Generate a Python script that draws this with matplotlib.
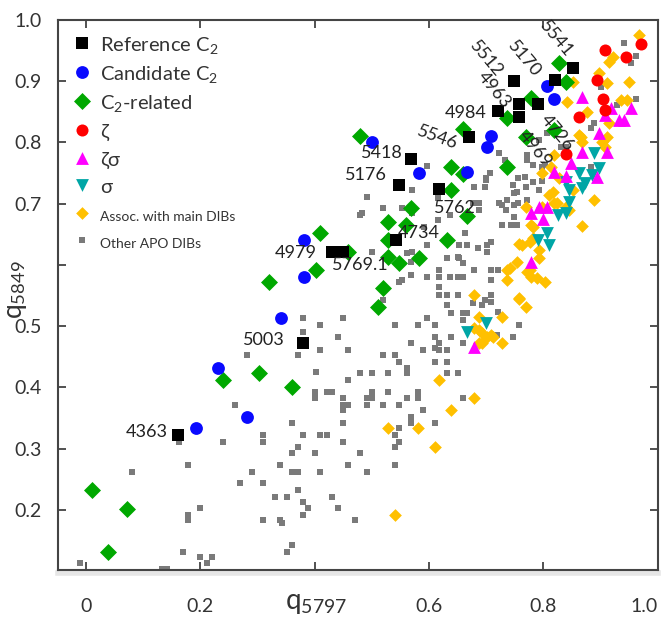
import numpy as np
import matplotlib
matplotlib.use("Agg")
import matplotlib.pyplot as plt

plt.rcParams['font.family'] = ['Lato', 'DejaVu Sans']
plt.rcParams['mathtext.fontset'] = 'custom'
plt.rcParams['mathtext.rm'] = 'Lato'
plt.rcParams['mathtext.it'] = 'Lato:italic'

# reference C2 DIBs (q5797, q5849) and their labels
ref_pts = [(0.161, 0.322), (0.379, 0.473), (0.430, 0.621), (0.449, 0.621), (0.543, 0.641),
           (0.548, 0.731), (0.569, 0.773), (0.618, 0.724), (0.669, 0.809), (0.721, 0.851),
           (0.749, 0.900), (0.758, 0.863), (0.758, 0.842), (0.791, 0.863), (0.821, 0.902),
           (0.851, 0.922)]
ref_labels = ['4363', '5003', '4979', '5769.1', '4734', '5176', '5418', '5762', '5546',
              '4984', '5512', '4963', '4969', '4726', '5170', '5541']

cand_pts = [(0.192, 0.334), (0.231, 0.432), (0.281, 0.352), (0.341, 0.513), (0.381, 0.641),
            (0.381, 0.580), (0.500, 0.801), (0.582, 0.750), (0.667, 0.751), (0.709, 0.811),
            (0.702, 0.793), (0.807, 0.892), (0.819, 0.871)]

c2rel_pts = [(0.010, 0.233), (0.072, 0.202), (0.038, 0.131), (0.239, 0.412), (0.302, 0.424),
             (0.360, 0.401), (0.320, 0.572), (0.409, 0.652), (0.402, 0.592), (0.458, 0.621),
             (0.479, 0.811), (0.569, 0.693), (0.528, 0.670), (0.560, 0.665), (0.528, 0.641),
             (0.529, 0.613), (0.548, 0.603), (0.582, 0.611), (0.519, 0.562), (0.510, 0.531),
             (0.631, 0.641), (0.639, 0.760), (0.659, 0.749), (0.659, 0.822), (0.737, 0.840),
             (0.779, 0.873), (0.828, 0.930), (0.840, 0.899), (0.737, 0.760), (0.639, 0.722),
             (0.819, 0.820), (0.770, 0.809), (0.667, 0.680)]

zeta_pts = [(0.907, 0.951), (0.971, 0.961), (0.945, 0.940), (0.893, 0.902), (0.905, 0.871),
            (0.908, 0.853), (0.863, 0.842), (0.840, 0.781)]

zetasigma_pts = [(0.868, 0.874), (0.919, 0.856), (0.954, 0.856), (0.908, 0.845), (0.933, 0.837),
                 (0.941, 0.837), (0.898, 0.816), (0.912, 0.784), (0.868, 0.784), (0.849, 0.766),
                 (0.819, 0.752), (0.793, 0.695), (0.807, 0.695), (0.779, 0.685), (0.800, 0.675),
                 (0.779, 0.605), (0.679, 0.466), (0.840, 0.746), (0.893, 0.744)]

sigma_pts = [(0.889, 0.783), (0.898, 0.758), (0.885, 0.747), (0.863, 0.750), (0.840, 0.736),
             (0.872, 0.734), (0.845, 0.722), (0.868, 0.725), (0.845, 0.703), (0.840, 0.685),
             (0.826, 0.682), (0.807, 0.652), (0.790, 0.641), (0.810, 0.633), (0.700, 0.505),
             (0.667, 0.491)]

assoc_pts = [(0.618, 0.412), (0.679, 0.383), (0.639, 0.363), (0.529, 0.334), (0.580, 0.334),
             (0.611, 0.303), (0.541, 0.192), (0.679, 0.551), (0.688, 0.515), (0.728, 0.515),
             (0.688, 0.494), (0.702, 0.482), (0.711, 0.482), (0.692, 0.473), (0.728, 0.473),
             (0.758, 0.546), (0.770, 0.531), (0.741, 0.595), (0.737, 0.576), (0.753, 0.605),
             (0.762, 0.633), (0.770, 0.695), (0.781, 0.662), (0.776, 0.592), (0.788, 0.579),
             (0.819, 0.701), (0.889, 0.706), (0.868, 0.664), (0.758, 0.634), (0.776, 0.638),
             (0.793, 0.624), (0.793, 0.611), (0.737, 0.592), (0.772, 0.589), (0.779, 0.580),
             (0.802, 0.572), (0.758, 0.544), (0.679, 0.497), (0.692, 0.489), (0.709, 0.486),
             (0.688, 0.473), (0.868, 0.801), (0.903, 0.801), (0.819, 0.780), (0.907, 0.793),
             (0.798, 0.750), (0.828, 0.742), (0.810, 0.714), (0.823, 0.701), (0.851, 0.722),
             (0.845, 0.690), (0.779, 0.665), (0.781, 0.644), (0.968, 0.976), (0.921, 0.940),
             (0.915, 0.931), (0.898, 0.913), (0.912, 0.897), (0.950, 0.899), (0.851, 0.899),
             (0.936, 0.869), (0.947, 0.869), (0.842, 0.866), (0.877, 0.850), (0.915, 0.832),
             (0.863, 0.812), (0.912, 0.809), (0.866, 0.809), (0.814, 0.760), (0.816, 0.719),
             (0.840, 0.695), (0.798, 0.695)]

other_pts = [(0.379, 0.513), (0.449, 0.513), (0.409, 0.502), (0.379, 0.491), (0.440, 0.482),
             (0.409, 0.461), (0.458, 0.461), (0.281, 0.453), (0.370, 0.453), (0.403, 0.425),
             (0.479, 0.424), (0.458, 0.412), (0.400, 0.393), (0.421, 0.393), (0.430, 0.393),
             (0.400, 0.383), (0.449, 0.383), (0.491, 0.383), (0.449, 0.371), (0.458, 0.371),
             (0.449, 0.363), (0.491, 0.371), (0.260, 0.371), (0.360, 0.342), (0.449, 0.342),
             (0.309, 0.322), (0.309, 0.311), (0.379, 0.322), (0.409, 0.322), (0.421, 0.322),
             (0.239, 0.311), (0.449, 0.311), (0.370, 0.303), (0.360, 0.293), (0.400, 0.293),
             (0.479, 0.293), (0.178, 0.273), (0.339, 0.273), (0.458, 0.273), (0.290, 0.262),
             (0.360, 0.262), (0.370, 0.262), (0.409, 0.262), (0.491, 0.262), (0.269, 0.244),
             (0.309, 0.244), (0.370, 0.233), (0.330, 0.221), (0.351, 0.221), (0.430, 0.221),
             (0.379, 0.213), (0.388, 0.203), (0.440, 0.203), (0.199, 0.203), (0.178, 0.192),
             (0.178, 0.184), (0.379, 0.192), (0.309, 0.184), (0.339, 0.184), (0.342, 0.179),
             (0.470, 0.184), (0.360, 0.143), (0.351, 0.131), (0.169, 0.131), (0.199, 0.123),
             (0.220, 0.123), (0.211, 0.113), (-0.010, 0.113), (0.133, 0.104), (0.141, 0.104),
             (0.080, 0.262), (0.162, 0.311),
             (0.618, 0.592), (0.618, 0.580), (0.636, 0.580), (0.650, 0.580), (0.618, 0.564),
             (0.618, 0.551), (0.632, 0.551), (0.650, 0.551), (0.631, 0.535), (0.659, 0.522),
             (0.667, 0.522), (0.639, 0.522), (0.676, 0.538), (0.692, 0.535), (0.709, 0.551),
             (0.709, 0.540), (0.697, 0.543), (0.720, 0.523), (0.709, 0.592), (0.720, 0.592),
             (0.679, 0.592), (0.659, 0.603), (0.597, 0.580), (0.569, 0.584), (0.548, 0.572),
             (0.519, 0.543), (0.540, 0.502), (0.580, 0.502), (0.610, 0.502), (0.597, 0.513),
             (0.610, 0.482), (0.639, 0.482), (0.659, 0.473), (0.569, 0.473), (0.610, 0.464),
             (0.618, 0.461), (0.631, 0.461), (0.589, 0.461), (0.519, 0.453), (0.540, 0.453),
             (0.548, 0.442), (0.561, 0.432), (0.561, 0.424), (0.610, 0.442), (0.631, 0.442),
             (0.631, 0.424), (0.650, 0.424), (0.500, 0.424), (0.528, 0.424), (0.500, 0.393),
             (0.528, 0.393), (0.580, 0.393), (0.500, 0.383), (0.519, 0.371), (0.548, 0.371),
             (0.561, 0.383), (0.580, 0.383), (0.589, 0.363), (0.659, 0.383), (0.569, 0.352),
             (0.569, 0.342), (0.610, 0.342), (0.548, 0.334), (0.540, 0.322), (0.548, 0.311),
             (0.540, 0.303), (0.540, 0.273),
             (0.482, 0.685), (0.519, 0.693), (0.552, 0.693), (0.571, 0.685), (0.501, 0.621),
             (0.571, 0.621), (0.552, 0.576), (0.597, 0.633), (0.631, 0.611), (0.653, 0.611),
             (0.662, 0.652), (0.685, 0.628), (0.702, 0.633), (0.702, 0.621), (0.709, 0.638),
             (0.709, 0.576), (0.659, 0.510), (0.618, 0.473), (0.758, 0.502), (0.718, 0.486),
             (0.746, 0.482), (0.728, 0.698), (0.737, 0.706), (0.749, 0.698), (0.728, 0.665),
             (0.744, 0.665), (0.753, 0.665), (0.749, 0.718), (0.746, 0.731), (0.697, 0.727),
             (0.700, 0.739), (0.679, 0.727), (0.676, 0.701), (0.615, 0.709), (0.571, 0.722),
             (0.491, 0.711), (0.592, 0.662), (0.569, 0.605), (0.597, 0.762), (0.479, 0.682),
             (0.615, 0.673), (0.636, 0.682), (0.653, 0.633), (0.650, 0.613), (0.667, 0.633),
             (0.659, 0.580), (0.561, 0.620),
             (0.723, 0.783), (0.732, 0.771), (0.706, 0.750), (0.700, 0.742), (0.772, 0.780),
             (0.772, 0.771), (0.807, 0.816), (0.793, 0.804), (0.798, 0.760), (0.767, 0.744),
             (0.755, 0.742), (0.770, 0.727), (0.753, 0.719), (0.755, 0.701), (0.723, 0.701),
             (0.735, 0.690), (0.688, 0.701), (0.688, 0.690), (0.749, 0.678), (0.772, 0.706),
             (0.941, 0.962), (0.962, 0.941), (0.954, 0.930), (0.901, 0.891), (0.962, 0.871),
             (0.929, 0.861), (0.884, 0.824), (0.889, 0.832), (0.831, 0.793), (0.802, 0.763),
             (0.840, 0.793), (0.781, 0.736), (0.797, 0.737), (0.884, 0.760), (0.793, 0.722),
             (0.781, 0.763)]

x_ticks = [0, 0.2, 0.4, 0.6, 0.8, 1.0]
x_ticklabels = ['0', '0.2', '', '0.6', '0.8', '1.0']   # 0.4 sits under the axis title
y_ticks = [0.2, 0.3, 0.4, 0.5, 0.6, 0.7, 0.8, 0.9, 1.0]
y_ticklabels = ['0.2', '0.3', '0.4', '0.5', '', '0.7', '0.8', '0.9', '1.0']

# label placement for the reference DIBs: (dx, dy) in pixels, ha, rotation
label_layout = {
    '4363': (-10, 3, 'right', 0), '5003': (-18, 3, 'right', 0),
    '4979': (-15, -1, 'right', 0), '5769.1': (-11, -13, 'left', 0),
    '4734': (1, 7, 'left', 0), '5176': (-12, 10, 'right', 0),
    '5418': (-9, 6, 'right', 0), '5762': (-5, -19, 'left', 0),
    '5546': (-11, -8, 'right', -20), '4984': (-12, -2, 'right', 0),
    '5512': (-15, 6, 'right', -50), '4963': (-12, -2, 'right', -50),
    '4969': (2, -16, 'left', -50), '4726': (5, -13, 'left', -50),
    '5170': (-18, 5, 'right', -50), '5541': (-3, 13, 'right', -50),
}

fig = plt.figure(figsize=(6.62, 6.18), dpi=100)
ax = fig.add_axes([0.0876, 0.0777, 0.906, 0.890])


def xy(pts):
    a = np.array(pts)
    return a[:, 0], a[:, 1]


ax.scatter(*xy(other_pts), marker='s', s=14, color='#7a7a7a', linewidths=0,
           label='Other APO DIBs', zorder=2)
ax.scatter(*xy(assoc_pts), marker='D', s=42, color='#FFC000', linewidths=0,
           label='Assoc. with main DIBs', zorder=3)
ax.scatter(*xy(sigma_pts), marker='v', s=85, color='#00A6A6', linewidths=0,
           label='σ', zorder=4)
ax.scatter(*xy(zetasigma_pts), marker='^', s=85, color='#FF00FF', linewidths=0,
           label='ζσ', zorder=4)
ax.scatter(*xy(zeta_pts), marker='o', s=75, color='#FF0000', linewidths=0,
           label='ζ', zorder=5)
ax.scatter(*xy(c2rel_pts), marker='D', s=75, color='#00A800', linewidths=0,
           label='C$_2$-related', zorder=6)
ax.scatter(*xy(cand_pts), marker='o', s=85, color='#0A0AFF', linewidths=0,
           label='Candidate C$_2$', zorder=6)
ax.scatter(*xy(ref_pts), marker='s', s=75, color='black', linewidths=0,
           label='Reference C$_2$', zorder=7)

for (x, y), lab in zip(ref_pts, ref_labels):
    dx, dy, ha, rot = label_layout[lab]
    ax.annotate(lab, (x, y), xytext=(dx, dy), textcoords='offset pixels',
                ha=ha, va='center', rotation=rot, rotation_mode='anchor',
                fontsize=13, color='#222222', zorder=8)

ax.set_xlim(-0.049, 0.999)
ax.set_ylim(0.102, 1.0)
ax.set_xticks(x_ticks)
ax.set_xticklabels(x_ticklabels)
ax.set_yticks(y_ticks)
ax.set_yticklabels(y_ticklabels)
ax.tick_params(direction='in', length=6, width=1.2, top=True, right=True,
               labelsize=14, colors='#333333')
ax.tick_params(axis='x', pad=20)
ax.tick_params(axis='y', pad=12)
ax.get_xticklabels()[-1].set_ha('right')
for sp in ax.spines.values():
    sp.set_color('#444444')
    sp.set_linewidth(1.5)

ax.set_xlabel('q$_{5797}$', fontsize=20, color='#333333')
ax.xaxis.set_label_coords(0.43, -0.036)
ax.set_ylabel('q$_{5849}$', fontsize=19, color='#333333')
ax.yaxis.set_label_coords(-0.048, 0.51)

# faint shadow below the bottom spine
ax.plot([0, 1], [-0.006, -0.006], transform=ax.transAxes, color='#e6e6e6',
        lw=4, clip_on=False, zorder=0)

handles, labels = ax.get_legend_handles_labels()
leg = ax.legend(handles[::-1], labels[::-1], loc='upper left', bbox_to_anchor=(0.0, 1.0),
                frameon=False, fontsize=14.5, handletextpad=0.4, labelspacing=0.34,
                handlelength=1.0, handleheight=1.2, borderaxespad=0.3, scatterpoints=1)
for t in leg.get_texts():
    t.set_color('#333333')
for t in leg.get_texts()[-2:]:
    t.set_fontsize(10)

fig.savefig('out.png', dpi=100)
